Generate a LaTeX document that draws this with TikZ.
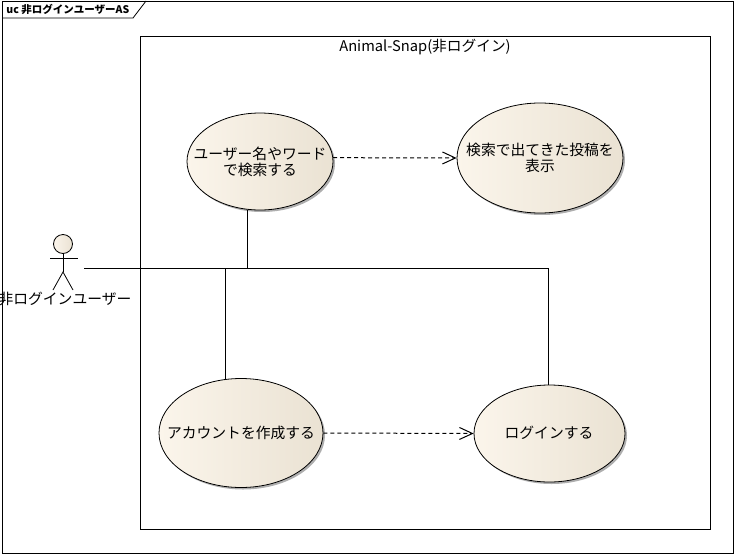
\documentclass[tikz,border=0pt]{standalone}
\usepackage{fontspec}
\setmainfont{Noto Sans CJK JP}
\usepackage{xcolor}
\usetikzlibrary{shapes.geometric, shadows, arrows.meta}

\definecolor{caseleft}{HTML}{FBF5EB}
\definecolor{caseright}{HTML}{EAE2D3}

\begin{document}
\begin{tikzpicture}[x=1pt, y=-1pt, line width=0.8pt,
    usecase/.style={ellipse, draw=black, inner sep=0pt, left color=caseleft, right color=caseright,
        drop shadow={shadow xshift=2pt, shadow yshift=-2pt, fill=black!45, opacity=0.7}},
    casetext/.style={align=center, inner sep=0pt, font=\fontsize{14.8}{16.5}\selectfont},
    depend/.style={line width=1pt, dashed, dash pattern=on 4pt off 3pt, -{Straight Barb[length=13pt, width=12pt]}}
    ]
    \useasboundingbox (0,0) rectangle (735,554);

    % frame and tab
    \draw (2,1) rectangle (733,553);
    \draw (2,18) -- (133,18) -- (146,1);
    \node[inner sep=0pt, anchor=west, font=\fontsize{10.5}{12}\selectfont\bfseries] (frametitle) at (6,9) {uc 非ログインユーザーAS};

    % system boundary
    \draw (140,36) rectangle (710,529);
    \node[inner sep=0pt, font=\fontsize{14.7}{15}\selectfont] (systitle) at (425,47) {Animal-Snap(非ログイン)};

    % use cases
    \node[usecase, minimum width=146pt, minimum height=97pt] (search) at (260,161.5) {};
    \node[usecase, minimum width=166pt, minimum height=110pt] (result) at (540,158) {};
    \node[usecase, minimum width=164pt, minimum height=109pt] (account) at (241,433) {};
    \node[usecase, minimum width=151pt, minimum height=97pt] (login) at (549.5,433.5) {};
    \node[casetext] (searchtext) at (260,162) {ユーザー名やワード\\で検索する};
    \node[casetext] (resulttext) at (540,158) {検索で出てきた投稿を\\表示};
    \node[casetext] (accounttext) at (241,433) {アカウントを作成する};
    \node[casetext] (logintext) at (549,433) {ログインする};

    % actor
    \node[circle, draw=black, inner sep=0pt, minimum size=19pt, left color=caseleft, right color=caseright] (head) at (63,244) {};
    \coordinate (hip) at (63,272);
    \draw (head.south) -- (hip);
    \draw (50,258) -- (78,258);
    \draw (53,290) -- (hip) -- (73,290);
    \node[casetext] (actor) at (65,299) {非ログインユーザー};
    \coordinate (actorend) at (84,268);

    % associations
    \draw (actorend) -| (login.91);
    \draw (actorend) -| (search.255);
    \draw (actorend) -| (account.106);

    % dependencies
    \draw[depend] (search.3) -- (result.west);
    \draw[depend] (account.east) -- (login.west);
\end{tikzpicture}
\end{document}
